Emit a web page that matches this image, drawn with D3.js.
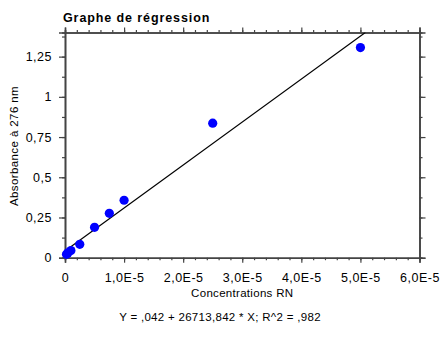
<!DOCTYPE html>
<html><head><meta charset="utf-8">
<script src="https://cdn.jsdelivr.net/npm/d3@7"></script>
<style>body{margin:0;background:#fff}svg{display:block}text{font-family:"Liberation Sans",Arial,sans-serif;fill:#000}</style>
</head><body><svg id="c" width="441" height="340"></svg>
<script>
const concentrations = [2.5e-7, 5e-7, 1e-6, 2.5e-6, 5e-6, 7.5e-6, 1e-5, 2.5e-5, 5e-5];
const absorbance = [0.021, 0.030, 0.044, 0.083, 0.189, 0.276, 0.357, 0.836, 1.306];
const intercept = 0.042, slope = 26713.842;
const xTicks = [0, 1e-5, 2e-5, 3e-5, 4e-5, 5e-5, 6e-5];
const xTickLabels = ["0", "1,0E-5", "2,0E-5", "3,0E-5", "4,0E-5", "5,0E-5", "6,0E-5"];
const yTicks = [0, 0.25, 0.5, 0.75, 1, 1.25];
const yTickLabels = ["0", "0,25", "0,5", "0,75", "1", "1,25"];
const title = "Graphe de régression";
const xLabel = "Concentrations RN";
const yLabel = "Absorbance à 276 nm";
const equation = "Y = ,042 + 26713,842 * X; R^2 = ,982";

const L = 65, R = 419.5, T = 32.5, B = 257.7;
const svg = d3.select("#c");
const x = d3.scaleLinear().domain([0, 6e-5]).range([L, R]);
const y = d3.scaleLinear().domain([0, 1.4]).range([B, T]);

const xMinor = d3.range(0, 6.0001e-5, 2e-6);
const yMinor = d3.range(0, 1.4001, 0.125);
const axCol = "#444";

function styleAxis(g){
  g.select(".domain").attr("stroke", axCol).attr("stroke-width", 1.6);
  g.selectAll(".tick line").attr("stroke", axCol).attr("stroke-width", 1.2);
}
// minor ticks
svg.append("g").attr("transform",`translate(0,${B})`).call(d3.axisBottom(x).tickValues(xMinor).tickSize(2.5).tickFormat("")).call(styleAxis);
svg.append("g").attr("transform",`translate(0,${T})`).call(d3.axisTop(x).tickValues(xMinor).tickSize(2.5).tickFormat("")).call(styleAxis);
svg.append("g").attr("transform",`translate(${L},0)`).call(d3.axisLeft(y).tickValues(yMinor).tickSize(3).tickFormat("")).call(styleAxis);
svg.append("g").attr("transform",`translate(${R},0)`).call(d3.axisRight(y).tickValues(yMinor).tickSize(3).tickFormat("")).call(styleAxis);
// major ticks
svg.append("g").attr("transform",`translate(0,${B})`)
  .call(d3.axisBottom(x).tickValues(xTicks).tickSize(5).tickPadding(10).tickFormat((d,i)=>xTickLabels[i])).call(styleAxis);
svg.append("g").attr("transform",`translate(0,${T})`).call(d3.axisTop(x).tickValues(xTicks).tickSize(5).tickFormat("")).call(styleAxis);
svg.append("g").attr("transform",`translate(${L},0)`)
  .call(d3.axisLeft(y).tickValues(yTicks).tickSize(6).tickPadding(7).tickFormat((d,i)=>yTickLabels[i])).call(styleAxis);
svg.append("g").attr("transform",`translate(${R},0)`).call(d3.axisRight(y).tickValues(yTicks).tickSize(6).tickFormat("")).call(styleAxis);
svg.selectAll(".tick text").attr("font-size", 12.5).attr("font-family", '"Liberation Sans",Arial,sans-serif').attr("fill","#000").attr("letter-spacing", 0.5);

// regression line clipped to plot
svg.append("clipPath").attr("id","pc").append("rect").attr("x",L).attr("y",T).attr("width",R-L).attr("height",B-T);
const xEnd = (1.4 - intercept)/slope;
svg.append("line").attr("clip-path","url(#pc)")
  .attr("x1", x(0)).attr("y1", y(intercept))
  .attr("x2", x(xEnd)).attr("y2", y(intercept + slope*xEnd))
  .attr("stroke","#000").attr("stroke-width",1.1);

svg.append("g").selectAll("circle").data(concentrations).join("circle")
  .attr("cx", d=>x(d)).attr("cy", (d,i)=>y(absorbance[i])).attr("r", 4.6).attr("fill","#0000ff");

svg.append("text").attr("x", 63).attr("y", 22).attr("font-size", 12.5).attr("font-weight","bold").attr("letter-spacing",0.9).text(title);
svg.append("text").attr("x", (L+R)/2).attr("y", 297).attr("text-anchor","middle").attr("font-size", 11.5).attr("letter-spacing",0.3).text(xLabel);
svg.append("text").attr("transform","translate(18,146) rotate(-90)").attr("text-anchor","middle").attr("font-size", 11.5).attr("letter-spacing",0.4).text(yLabel);
svg.append("text").attr("x", 220).attr("y", 321).attr("text-anchor","middle").attr("font-size", 11.5).attr("letter-spacing",0.3).text(equation);
</script></body></html>
